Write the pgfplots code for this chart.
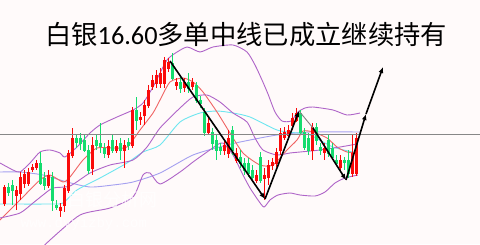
\documentclass[border=0pt]{standalone}
\usepackage{fontspec}
\setmainfont{Carlito}
\newfontfamily\cjk{Noto Sans CJK SC}
\newfontfamily\wmono{Liberation Mono}
\usepackage{pgfplots}
\pgfplotsset{compat=1.18}
\usepackage{pgfplotstable}
\usetikzlibrary{arrows.meta}
\definecolor{bg}{RGB}{255,250,250}
\definecolor{cred}{RGB}{250,10,10}
\definecolor{cgreen}{RGB}{20,220,110}
\definecolor{mared}{RGB}{240,100,100}
\definecolor{bandp}{RGB}{175,100,200}
\definecolor{cyanl}{RGB}{110,230,240}
\definecolor{lav}{RGB}{165,160,240}
\definecolor{hgray}{RGB}{135,135,135}

% candle data in chart pixel units (y grows downward): body top/bottom, high/low
\pgfplotstableread{
x top bot hi lo
4 187 203 185 206
16 190 195 186 210
20 177 193 172 200
24 174 183 170 188
28 172 183 168 186
32 167 169 164 172
36 163 167 160 170
48 175 185 170 188
60 207 210 203 217
64 188 205 185 212
68 153 190 150 193
72 138 155 128 158
92 145 168 137 175
108 146 154 140 158
116 146 150 140 153
124 145 150 140 168
132 110 145 107 148
140 117 119 112 125
144 105 115 100 125
148 90 105 85 108
152 80 86 75 90
156 75 83 70 88
160 73 83 68 88
164 60 83 57 88
168 62 68 58 72
176 82 85 78 90
184 82 87 78 92
192 82 86 78 90
208 123 132 118 135
224 145 150 140 155
228 138 153 130 158
236 153 160 148 163
256 175 180 170 183
264 175 178 168 200
268 165 177 160 185
272 162 165 158 170
276 152 163 148 167
280 133 150 128 155
284 132 137 127 140
288 130 135 125 140
292 118 125 113 130
296 113 120 108 122
312 127 150 123 160
324 148 152 143 160
340 160 167 155 172
352 153 173 135 177
356 138 173 133 176
}\redc

\pgfplotstableread{
x top bot hi lo
8 187 192 183 196
12 185 190 180 205
40 163 183 152 185
44 178 185 172 190
52 177 200 172 211
56 205 207 200 210
76 138 142 134 148
80 138 143 133 150
84 140 150 134 152
88 150 170 145 174
96 140 145 135 150
100 143 146 123 153
104 148 153 143 158
112 140 150 135 153
120 143 150 138 160
128 142 145 138 150
136 110 120 97 130
172 63 78 53 80
180 82 88 77 93
188 82 88 73 93
196 85 100 82 103
200 100 103 96 108
204 112 132 108 136
212 132 143 128 150
216 140 150 135 160
220 147 150 143 155
232 130 150 126 155
240 157 163 150 168
244 163 170 158 175
248 163 173 158 177
252 170 177 165 180
260 157 180 152 183
300 113 132 110 135
304 132 147 128 150
308 138 150 133 155
316 127 140 123 145
320 147 150 143 155
328 140 153 135 157
332 148 157 143 160
336 160 163 155 166
344 160 162 157 170
348 160 173 150 178
}\greenc

\begin{document}
\begin{tikzpicture}
\begin{axis}[
  width=480bp, height=244bp, scale only axis,
  xmin=0, xmax=480, ymin=0, ymax=244, y dir=reverse,
  ticks=none, axis line style={draw=none},
  axis background/.style={fill=bg},
  clip=true,
]
% lavender MA
\addplot[lav, line width=0.9bp, smooth, tension=0.4] coordinates {
(0,172) (20,172) (43,175) (67,182) (90,187) (113,185) (133,182) (160,173)
(193,155) (227,145) (250,140) (277,135) (310,132) (360,132)};
% cyan MA
\addplot[cyanl, line width=0.9bp, smooth, tension=0.4] coordinates {
(0,204) (50,204) (63,203) (77,190) (100,178) (127,163) (143,152) (160,145)
(180,122) (200,113) (217,111) (233,113) (250,117) (277,130) (297,133)
(310,135) (333,147) (357,153)};
% red MA
\addplot[mared, line width=0.9bp, smooth, tension=0.4] coordinates {
(0,220) (20,200) (40,180) (50,175) (63,182) (70,177) (83,160) (97,148)
(113,148) (127,147) (140,130) (153,113) (160,100) (170,82) (183,78)
(193,82) (203,92) (217,112) (230,133) (243,153) (260,165) (273,165)
(287,150) (297,140) (303,131) (313,132) (327,138) (337,147) (347,152) (357,153)};
% Bollinger upper
\addplot[bandp, line width=0.9bp, smooth, tension=0.4] coordinates {
(0,163) (13,170) (20,172) (30,163) (40,152) (50,150) (60,153) (65,157)
(77,147) (90,133) (100,125) (117,117) (133,110) (143,103) (153,87)
(160,73) (167,60) (174,54) (187,47) (200,52) (213,47) (233,45) (247,52)
(255,65) (262,80) (268,94) (275,112) (282,121) (291,121) (298,112)
(305,108) (313,107) (333,110) (347,115) (360,113)};
% Bollinger middle
\addplot[bandp, line width=0.9bp, smooth, tension=0.4] coordinates {
(0,218) (20,213) (33,203) (43,195) (53,188) (70,186) (90,173) (110,165)
(133,160) (147,147) (160,128) (180,108) (193,97) (207,95) (220,102)
(233,113) (247,122) (255,138) (263,150) (277,155) (290,153) (300,152)
(320,150) (340,147) (357,144)};
% Bollinger lower
\addplot[bandp, line width=0.9bp, smooth, tension=0.4] coordinates {
(40,250) (50,240) (80,215) (110,208) (133,197) (143,175) (150,173)
(160,184) (180,172) (193,162) (207,152) (217,145) (223,143) (233,155)
(243,175) (250,188) (258,200) (264,207) (270,200) (278,195) (290,193)
(300,195) (315,196) (325,192) (335,183) (345,178) (358,175)};

% candle wicks
\addplot[draw=none, mark=none, error bars/.cd, y dir=both, y explicit, error mark=none,
  error bar style={draw=cred, line width=0.7bp}]
  table[x=x, y expr={(\thisrow{hi}+\thisrow{lo})/2}, y error expr={(\thisrow{lo}-\thisrow{hi})/2}] {\redc};
\addplot[draw=none, mark=none, error bars/.cd, y dir=both, y explicit, error mark=none,
  error bar style={draw=cgreen, line width=0.7bp}]
  table[x=x, y expr={(\thisrow{hi}+\thisrow{lo})/2}, y error expr={(\thisrow{lo}-\thisrow{hi})/2}] {\greenc};
% candle bodies
\addplot[draw=none, mark=none, error bars/.cd, y dir=both, y explicit, error mark=none,
  error bar style={draw=cred, line width=3bp}]
  table[x=x, y expr={(\thisrow{top}+\thisrow{bot})/2}, y error expr={(\thisrow{bot}-\thisrow{top})/2+0.5}] {\redc};
\addplot[draw=none, mark=none, error bars/.cd, y dir=both, y explicit, error mark=none,
  error bar style={draw=cgreen, line width=3bp}]
  table[x=x, y expr={(\thisrow{top}+\thisrow{bot})/2}, y error expr={(\thisrow{bot}-\thisrow{top})/2+0.5}] {\greenc};

% horizontal line
\addplot[hgray, line width=1.3bp] coordinates {(0,134.5) (480,134.5)};

% arrows
\addplot[black, line width=1.6bp, -{Latex[length=6bp,width=5bp]}] coordinates {(170,61) (265,199)};
\addplot[black, line width=1.6bp, -{Latex[length=6bp,width=5bp]}] coordinates {(265,199) (299,111)};
\addplot[gray, line width=0.9bp] coordinates {(299,111) (313,128)};
\addplot[black, line width=1.6bp, -{Latex[length=6bp,width=5bp]}] coordinates {(313,128) (346,180)};
\addplot[black, line width=1.6bp, -{Latex[length=6bp,width=5bp]}] coordinates {(346,180) (366,114)};
\addplot[black, line width=1.6bp, -{Latex[length=6bp,width=5bp]}] coordinates {(366,114) (383,67)};

% watermark
\node[white, opacity=0.75, font={\cjk\fontsize{18bp}{18bp}\selectfont}] at (axis cs:112,200) {白银分析网};
\node[white, opacity=0.75, font={\wmono\fontsize{14bp}{14bp}\selectfont}] at (axis cs:84,224) {www.dyyizby.com};

% title
\node[black, inner sep=0pt, anchor=center] at (axis cs:246,35)
  {\fontsize{26.3bp}{28bp}\selectfont{\cjk 白银}16.60{\cjk 多单中线已成立继续持有}};
\end{axis}
\end{tikzpicture}
\end{document}
